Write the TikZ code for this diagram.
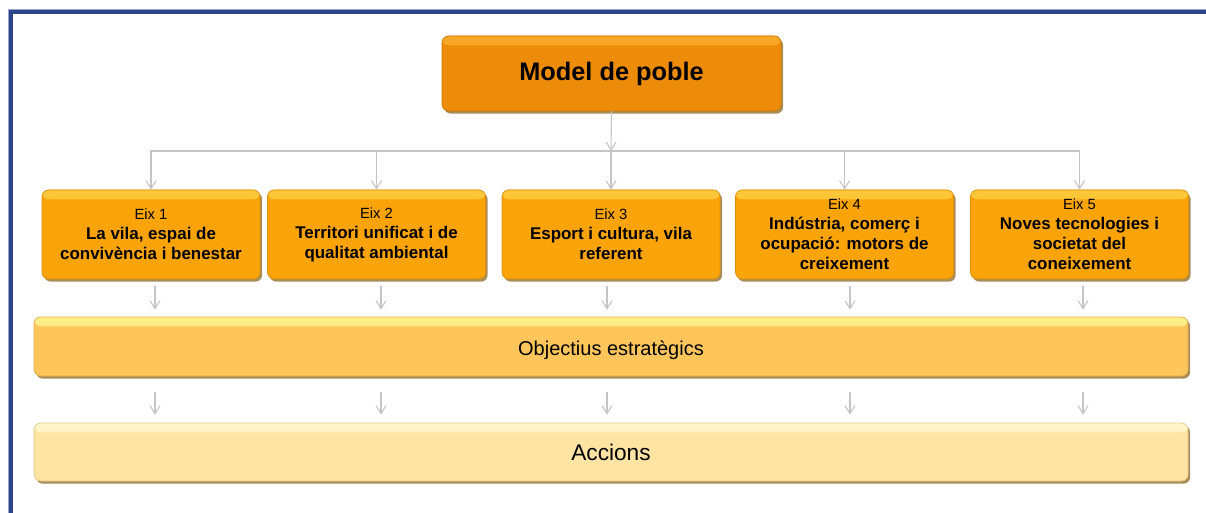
\documentclass[tikz,border=0pt]{standalone}
\usepackage{fontspec}
\setmainfont{Liberation Sans}
\usetikzlibrary{arrows.meta,shadows,calc}
\definecolor{framebl}{HTML}{2C4388}
\definecolor{framelt}{HTML}{98A4CC}
\definecolor{modelc}{HTML}{EC8C08}
\definecolor{modelhl}{HTML}{F8A828}
\definecolor{eixc}{HTML}{FBA40A}
\definecolor{eixhl}{HTML}{FFC83A}
\definecolor{objc}{HTML}{FEC55A}
\definecolor{objhl}{HTML}{FFF08C}
\definecolor{accc}{HTML}{FFE4A3}
\definecolor{acchl}{HTML}{FFF6CC}
\definecolor{conncol}{HTML}{C4C4C4}
\definecolor{shadowc}{HTML}{9C7A3C}
\newcommand\eixlab[1]{{\mdseries\fontsize{11.1}{15}\selectfont #1}}
\begin{document}
\begin{tikzpicture}[x=0.75pt,y=-0.75pt,
  base/.style={rounded corners=5pt, inner sep=0pt, align=center, text=black,
    drop shadow={shadow xshift=1.6pt, shadow yshift=-2pt, fill=shadowc, opacity=0.85}},
  shinybox/.style 2 args={base, fill=#1, draw=#1!88!black, line width=0.5pt,
    path picture={\fill[top color=#2, bottom color=#1]
      (path picture bounding box.north west) rectangle ([yshift=-7pt]path picture bounding box.north east);}},
  eixbox/.style={shinybox={eixc}{eixhl}, minimum width=163.5pt, minimum height=66.75pt,
    font=\fontsize{12.7}{15}\selectfont\bfseries},
  conn/.style={draw=conncol, line width=0.8pt, -{Straight Barb[length=6pt,width=7.5pt]}},
  framepath/.style={line cap=rect}
]
\useasboundingbox (0,0) rectangle (1206,513);
\clip (0,0) rectangle (1206,513);
\fill[white] (0,0) rectangle (1206,513);
% frame
\draw[framelt, line width=1pt, framepath] (8.6,530) -- (8.6,9.6) -- (1220,9.6);
\draw[framebl, line width=2.5pt, framepath] (10.9,530) -- (10.9,11.9) -- (1220,11.9);

% nodes
\node[shinybox={modelc}{modelhl}, minimum width=254.25pt, minimum height=56.25pt,
  font=\fontsize{19}{22}\selectfont\bfseries] (model) at (611.5,73.5) {Model de poble};

\node[eixbox] (e1) at (151,234.5) {\eixlab{Eix 1}\\La vila, espai de\\convivència i benestar};
\node[eixbox] (e2) at (376.5,234.5) {\eixlab{Eix 2}\\Territori unificat i de\\qualitat ambiental};
\node[eixbox] (e3) at (611,234.5) {\eixlab{Eix 3}\\Esport i cultura, vila\\referent};
\node[eixbox] (e4) at (844.5,234.5) {\eixlab{Eix 4}\\Indústria, comerç i\\ocupació: motors de\\creixement};
\node[eixbox] (e5) at (1079.5,234.5) {\eixlab{Eix 5}\\Noves tecnologies i\\societat del\\coneixement};

\node[shinybox={objc}{objhl}, minimum width=865.5pt, minimum height=44.25pt,
  text height=13.8pt, text depth=0pt,
  font=\fontsize{15}{18}\selectfont] (obj) at (611,346.5) {Objectius estratègics};
\node[shinybox={accc}{acchl}, minimum width=865.5pt, minimum height=43.5pt,
  text height=13pt, text depth=0pt,
  font=\fontsize{17}{20}\selectfont] (acc) at (611,452) {Accions};

% connectors
\coordinate (bus) at (611,151);
\draw[conn] (model.south) -- (bus);
\foreach \n in {e1,e2,e4,e5} \draw[conn] (bus) -| (\n.north);
\draw[conn] (bus) -- (e3.north);

\foreach \n/\dx in {e1/4,e2/4.5,e3/-4,e4/5.5,e5/3.5} {
  \draw[conn] ($(\n.south)+(\dx,7)$) -- ($(\n.south |- obj.north)+(\dx,-7)$);
  \draw[conn] ($(\n.south |- obj.south)+(\dx,16)$) -- ($(\n.south |- acc.north)+(\dx,-8)$);
}
\end{tikzpicture}
\end{document}
